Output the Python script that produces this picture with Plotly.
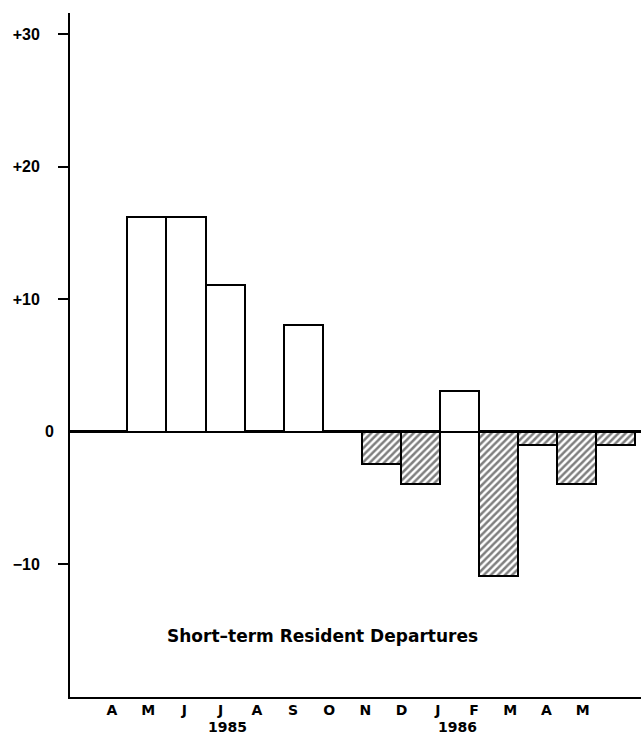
import plotly.graph_objects as go

months = ["A", "M", "J", "J", "A", "S", "O", "N", "D", "J", "F", "M", "A", "M"]
values = [0, 16.2, 16.2, 11.1, 0, 8.1, 0, -2.4, -3.9, 3.1, -10.9, -1.0, -3.9, -1.0]
years = ["1985", "1986"]
year_pos = [3.18, 9.53]
y_tickvals = [30, 20, 10, -10]
y_ticktext = ["+30", "+20", "+10", "\u221210"]
caption = "Short\u2013term Resident Departures"

FONT = "DejaVu Sans"
NUMFONT = "Liberation Sans"
idx = list(range(len(months)))
patterns = ["/" if v < 0 else "" for v in values]

fig = go.Figure()
fig.add_trace(go.Bar(
    x=idx, y=values, width=1.0,
    marker=dict(color="white", line=dict(color="black", width=2),
                pattern=dict(shape=patterns, fgcolor="black", bgcolor="white",
                             size=5, solidity=0.5, fillmode="overlay")),
    showlegend=False, hoverinfo="skip"))
fig.add_trace(go.Scatter(x=idx, y=[None] * len(idx), xaxis="x2", yaxis="y",
                         showlegend=False, hoverinfo="skip"))

fig.update_layout(
    width=642, height=736,
    margin=dict(l=70, r=1, t=13, b=39, autoexpand=False),
    paper_bgcolor="white", plot_bgcolor="white",
    bargap=0,
    font=dict(family=FONT, color="black", size=14),
    xaxis=dict(range=[-0.97, 13.65], showticklabels=False, ticks="",
               showgrid=False, zeroline=False, showline=True,
               linecolor="black", linewidth=2, fixedrange=True, automargin=False),
    xaxis2=dict(overlaying="x", side="bottom", range=[-1.16, 14.61],
                tickvals=idx, ticktext=months, ticks="", showgrid=False,
                zeroline=False, showline=False, automargin=False,
                ticklabelstandoff=3, fixedrange=True,
                tickfont=dict(family=FONT, size=14, color="black", weight="bold")),
    yaxis=dict(range=[-20, 31.6], tickvals=y_tickvals, ticktext=y_ticktext,
               ticks="outside", ticklen=10, tickwidth=1.5, tickcolor="black",
               ticklabelstandoff=15, automargin=False, fixedrange=True,
               tickfont=dict(family=NUMFONT, size=16, color="black", weight="bold"),
               showgrid=False, showline=True, linecolor="black", linewidth=2,
               zeroline=True, zerolinecolor="black", zerolinewidth=2.5),
)

for yr, xp in zip(years, year_pos):
    fig.add_annotation(x=xp, xref="x2", y=0, yref="paper", yshift=-30,
                       text=yr, showarrow=False, yanchor="middle",
                       font=dict(family=FONT, size=14, color="black", weight="bold"))

fig.add_annotation(x=0, xref="paper", y=0, yref="y", xshift=-21,
                   text="0", showarrow=False, xanchor="center",
                   font=dict(family=NUMFONT, size=16, color="black", weight="bold"))

fig.add_annotation(x=1.47, xref="x", y=-15.4, yref="y", text=caption,
                   showarrow=False, xanchor="left",
                   font=dict(family=FONT, size=17, color="black", weight="bold"))

fig.write_html("out.html", config={"displayModeBar": False},
               post_script="document.body.style.margin='0';")
